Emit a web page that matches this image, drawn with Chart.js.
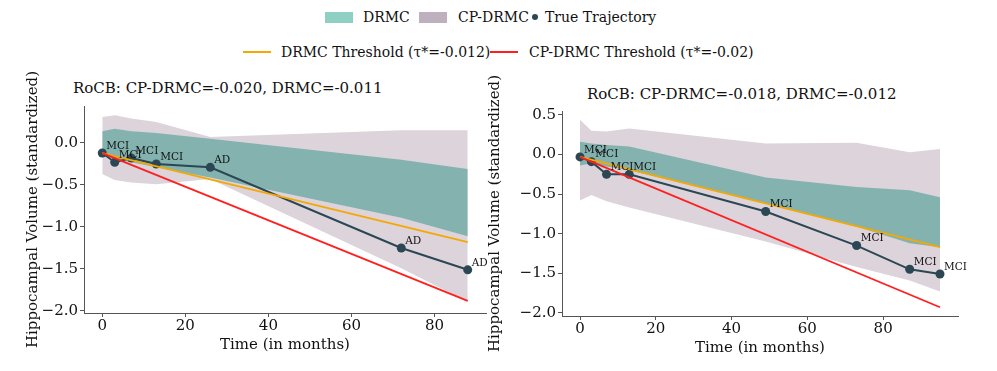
<!DOCTYPE html>
<html>
<head>
<meta charset="utf-8">
<script src="https://cdn.jsdelivr.net/npm/chart.js@4.4.1/dist/chart.umd.min.js"></script>
<style>
  body { margin: 0; background: #fff; }
  #wrap { position: relative; width: 997px; height: 371px; overflow: hidden; font-family: 'DejaVu Serif', serif; color: #111; }
  canvas { position: absolute; }
  .lg { position: absolute; font-size: 14px; line-height: 16px; white-space: nowrap; }
  .patch { position: absolute; height: 11px; width: 28px; }
  .ln { position: absolute; height: 2px; width: 28px; }
  .ttl { position: absolute; font-size: 15px; line-height: 18px; white-space: nowrap; }
</style>
</head>
<body>
<div id="wrap">
  <div class="patch" style="left:325px; top:12px; background:#8fcfc4;"></div>
  <div class="lg" style="left:363px; top:9px;">DRMC</div>
  <div class="patch" style="left:419px; top:12px; background:#bfb0bf;"></div>
  <div class="lg" style="left:458px; top:9px;">CP-DRMC</div>
  <div style="position:absolute; left:532px; top:14px; width:6px; height:6px; border-radius:3px; background:#2a4753;"></div>
  <div class="lg" style="left:545px; top:9px;">True Trajectory</div>
  <div class="ln" style="left:243px; top:51px; background:#f5a800;"></div>
  <div class="lg" style="left:281px; top:44px;">DRMC Threshold (τ*=-0.012)</div>
  <div class="ln" style="left:490px; top:51px; background:#ff1f1f;"></div>
  <div class="lg" style="left:529px; top:44px;">CP-DRMC Threshold (τ*=-0.02)</div>

  <div class="ttl" style="left:73px; top:79px;">RoCB: CP-DRMC=-0.020, DRMC=-0.011</div>
  <div class="ttl" style="left:587px; top:85px;">RoCB: CP-DRMC=-0.018, DRMC=-0.012</div>

  <canvas id="leftChart" width="495" height="301" style="left:0; top:70px;"></canvas>
  <canvas id="rightChart" width="517" height="301" style="left:480px; top:70px;"></canvas>
</div>
<script>
// Left subject
const leftMonths = [0, 3, 7, 13, 26, 72, 88];
const leftTrajectory = [-0.12, -0.23, -0.18, -0.25, -0.29, -1.25, -1.51];
const leftStages = ['MCI', 'MCI', 'MCI', 'MCI', 'AD', 'AD', 'AD'];
const leftDrmcUpper = [0.14, 0.17, 0.14, 0.12, 0.05, -0.20, -0.31];
const leftDrmcLower = [-0.15, -0.19, -0.23, -0.29, -0.41, -0.89, -1.11];
const leftCpUpper = [0.31, 0.33, 0.29, 0.25, 0.07, 0.15, 0.15];
const leftCpLower = [-0.37, -0.44, -0.47, -0.49, -0.43, -1.49, -1.89];
const leftThresholdMonths = [0, 88];
const leftDrmcThreshold = [-0.12, -1.18];
const leftCpThreshold = [-0.12, -1.88];
const leftYTicks = [-2.0, -1.5, -1.0, -0.5, 0.0];

// Right subject
const rightMonths = [0, 3, 7, 13, 49, 73, 87, 95];
const rightTrajectory = [-0.03, -0.09, -0.25, -0.25, -0.72, -1.15, -1.45, -1.51];
const rightStages = ['MCI', 'MCI', 'MCI', 'MCI', 'MCI', 'MCI', 'MCI', 'MCI'];
const rightDrmcUpper = [0.16, 0.14, 0.12, 0.10, -0.29, -0.41, -0.45, -0.54];
const rightDrmcLower = [-0.14, -0.11, -0.15, -0.20, -0.62, -0.91, -1.12, -1.17];
const rightCpUpper = [0.44, 0.30, 0.29, 0.33, 0.14, 0.15, 0.03, 0.07];
const rightCpLower = [-0.58, -0.51, -0.59, -0.67, -1.10, -1.42, -1.59, -1.73];
const rightThresholdMonths = [0, 95];
const rightDrmcThreshold = [-0.03, -1.17];
const rightCpThreshold = [-0.03, -1.93];
const rightYTicks = [-2.0, -1.5, -1.0, -0.5, 0.0, 0.5];

const xTicks = [0, 20, 40, 60, 80];

const FONT = 'DejaVu Serif';
const AXIS_COLOR = '#555';

function pts(xs, ys) {
  return xs.map((x, i) => ({ x: x, y: ys[i] }));
}

function fmtTick(v) {
  return (v < 0 ? '\u2212' : '') + Math.abs(v).toFixed(1);
}

// draws the stage name next to each trajectory point
const stageLabels = {
  id: 'stageLabels',
  afterDatasetsDraw(chart, args, opts) {
    const meta = chart.getDatasetMeta(2);
    const ctx = chart.ctx;
    ctx.save();
    ctx.font = '10.5px ' + FONT;
    ctx.fillStyle = '#111';
    ctx.textAlign = 'left';
    ctx.textBaseline = 'middle';
    meta.data.forEach((p, i) => {
      ctx.fillText(opts.labels[i], p.x + 4, p.y - 7);
    });
    ctx.restore();
  }
};

function makeChart(id, cfg) {
  const ctx = document.getElementById(id).getContext('2d');
  return new Chart(ctx, {
    type: 'line',
    data: {
      datasets: [
        { label: 'CP-DRMC Threshold', data: pts(cfg.thrX, cfg.cpThr), borderColor: '#ff1f1f', borderWidth: 1.8, pointRadius: 0, fill: false },
        { label: 'DRMC Threshold', data: pts(cfg.thrX, cfg.drmcThr), borderColor: '#f5a800', borderWidth: 1.8, pointRadius: 0, fill: false },
        { label: 'True Trajectory', data: pts(cfg.months, cfg.traj), borderColor: '#2a4753', backgroundColor: '#2a4753', borderWidth: 2, pointRadius: 4.5, pointBorderWidth: 0, fill: false },
        { label: 'DRMC', data: pts(cfg.months, cfg.drmcUp), borderWidth: 0, pointRadius: 0, backgroundColor: '#84b3af', fill: '+1' },
        { label: 'DRMC low', data: pts(cfg.months, cfg.drmcLo), borderWidth: 0, pointRadius: 0, fill: false },
        { label: 'CP-DRMC', data: pts(cfg.months, cfg.cpUp), borderWidth: 0, pointRadius: 0, backgroundColor: '#dcd3db', fill: '+1' },
        { label: 'CP-DRMC low', data: pts(cfg.months, cfg.cpLo), borderWidth: 0, pointRadius: 0, fill: false }
      ]
    },
    options: {
      responsive: false,
      animation: false,
      devicePixelRatio: 1,
      layout: { padding: { top: cfg.padTop, right: cfg.padRight, left: 0, bottom: 0 } },
      plugins: {
        legend: { display: false },
        tooltip: { enabled: false },
        stageLabels: { labels: cfg.stages }
      },
      scales: {
        x: {
          type: 'linear',
          min: cfg.xMin,
          max: cfg.xMax,
          afterBuildTicks: (s) => { s.ticks = xTicks.map(v => ({ value: v })); },
          afterFit: (s) => { s.height = cfg.xHeight; },
          ticks: { font: { family: FONT, size: 15 }, color: '#111', padding: 0, callback: v => String(v) },
          grid: { drawOnChartArea: false, tickLength: 4, tickColor: AXIS_COLOR },
          border: { color: AXIS_COLOR, width: 1 },
          title: { display: true, text: 'Time (in months)', font: { family: FONT, size: 15 }, color: '#111', padding: { top: 0, bottom: cfg.xTitlePad } }
        },
        y: {
          min: cfg.yMin,
          max: cfg.yMax,
          afterBuildTicks: (s) => { s.ticks = cfg.yTicks.map(v => ({ value: v })); },
          afterFit: (s) => { s.width = cfg.yWidth; },
          ticks: { font: { family: FONT, size: 15 }, color: '#111', padding: 2, callback: fmtTick },
          grid: { drawOnChartArea: false, tickLength: 4, tickColor: AXIS_COLOR },
          border: { color: AXIS_COLOR, width: 1 },
          title: { display: true, text: 'Hippocampal Volume (standardized)', font: { family: FONT, size: 15 }, color: '#111', padding: { top: cfg.yTitlePad, bottom: 0 } }
        }
      }
    },
    plugins: [stageLabels]
  });
}

makeChart('leftChart', {
  months: leftMonths, traj: leftTrajectory, stages: leftStages,
  drmcUp: leftDrmcUpper, drmcLo: leftDrmcLower, cpUp: leftCpUpper, cpLo: leftCpLower,
  thrX: leftThresholdMonths, drmcThr: leftDrmcThreshold, cpThr: leftCpThreshold,
  yTicks: leftYTicks, xMin: -4.4, xMax: 92.4, yMin: -2.024, yMax: 0.44,
  padTop: 36, padRight: 9, xHeight: 58, yWidth: 84, xTitlePad: 17, yTitlePad: 24
});

makeChart('rightChart', {
  months: rightMonths, traj: rightTrajectory, stages: rightStages,
  drmcUp: rightDrmcUpper, drmcLo: rightDrmcLower, cpUp: rightCpUpper, cpLo: rightCpLower,
  thrX: rightThresholdMonths, drmcThr: rightDrmcThreshold, cpThr: rightCpThreshold,
  yTicks: rightYTicks, xMin: -4.75, xMax: 99.75, yMin: -2.04, yMax: 0.55,
  padTop: 41, padRight: 39, xHeight: 55, yWidth: 82, xTitlePad: 14, yTitlePad: 6
});
</script>
</body>
</html>
